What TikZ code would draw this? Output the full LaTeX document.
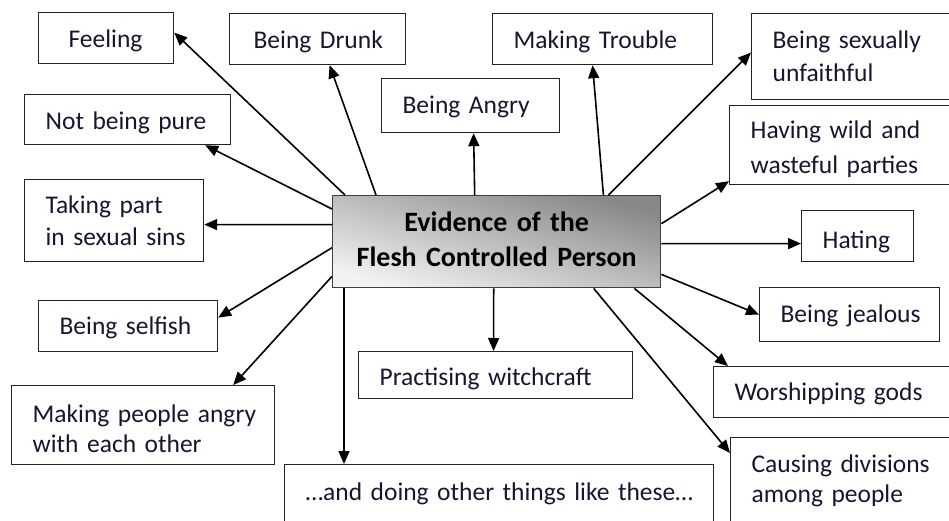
\documentclass[tikz,border=0pt]{standalone}
\usepackage{fontspec}
\setmainfont{Carlito}
\usetikzlibrary{arrows.meta}
\definecolor{txt}{RGB}{22,22,48}
\definecolor{edge}{RGB}{35,35,35}
\pgfdeclareverticalshading{evshade}{100bp}{color(0bp)=(black!5); color(25bp)=(black!5); color(75bp)=(black!47); color(100bp)=(black!47)}
\begin{document}
\begin{tikzpicture}[x=1pt,y=-1pt,
  lpad/.style={execute at begin node={\leftskip=#1}},
  box/.style={draw=edge, line width=1.2pt, anchor=north west, inner sep=0pt,
    align=left, text=txt, font=\fontsize{25.5}{32}\selectfont, lpad=21pt},
  lead/.style={font=\fontsize{25.5}{#1}\selectfont},
  mainbox/.style={draw=black!75, line width=1.4pt, anchor=north west, inner sep=0pt,
    align=center, text=black, font=\bfseries\fontsize{28}{35}\selectfont,
    shade, shading=evshade, shading angle=-15.7},
  arr/.style={draw=black, line width=1.6pt, -{Triangle[length=13pt,width=11pt]}}]
\useasboundingbox (0,0) rectangle (949,521);
\clip (0,0) rectangle (949,521);

% central node
\node[mainbox, text width=328pt, text height=36pt, text depth=56pt] (ev) at (332,195)
  {Evidence of the\\Flesh Controlled Person};

% surrounding boxes
\node[box, lpad=30pt, text width=135pt, text height=34.7pt, text depth=16.3pt] (feel) at (38,12) {Feeling};
\node[box, lpad=24pt, text width=176pt, text height=35pt, text depth=16pt] (drunk) at (229,13) {Being Drunk};
\node[box, text width=178pt, text height=35pt, text depth=19pt] (angry) at (381,78) {Being Angry};
\node[box, text width=220pt, text height=35pt, text depth=16pt] (trouble) at (492,13) {Making Trouble};
\node[box, lead=33pt, text width=250pt, text height=35pt, text depth=51pt] (sex) at (751,13) {Being sexually\\unfaithful};
\node[box, lead=35pt, text width=260pt, text height=33pt, text depth=46pt] (wild) at (729,105) {Having wild and\\wasteful parties};
\node[box, text width=206pt, text height=35pt, text depth=15pt] (pure) at (24,94) {Not being pure};
\node[box, lead=32pt, text width=179pt, text height=34pt, text depth=48pt] (take) at (24,179) {Taking part\\in sexual sins};
\node[box, text width=112pt, text height=38pt, text depth=13pt] (hate) at (801,210) {Hating};
\node[box, text width=180pt, text height=35pt, text depth=19pt] (jeal) at (759,287) {Being jealous};
\node[box, text width=179pt, text height=34pt, text depth=17pt] (self) at (38,300) {Being selfish};
\node[box, text width=274pt, text height=34pt, text depth=13pt] (witch) at (358,351) {Practising witchcraft};
\node[box, text width=260pt, text height=34pt, text depth=17pt] (worship) at (713,366) {Worshipping gods};
\node[box, lead=30pt, text width=263pt, text height=37pt, text depth=42pt] (people) at (11,385) {Making people angry\\with each other};
\node[box, lead=30pt, text width=250pt, text height=35pt, text depth=75pt] (cause) at (730,437) {Causing divisions\\among people};
\node[box, text width=429pt, text height=36pt, text depth=44pt] (doing) at (284,464) {\ldots and doing other things like these\ldots};

% connectors
\draw[arr] ([xshift=13pt]ev.north west) -- ([yshift=5.5pt]feel.east);
\draw[arr] ([xshift=44pt]ev.north west) -- ([xshift=12pt]drunk.south);
\draw[arr] ([xshift=-22pt]ev.north) -- ([xshift=3pt]angry.south);
\draw[arr] ([yshift=-14pt]ev.north west) -- ([xshift=-26pt]pure.south east);
\draw[arr] ([yshift=17pt]ev.west) -- ([yshift=-4pt]take.east);
\draw[arr] ([yshift=-6pt]ev.west) -- ([yshift=8.5pt]self.east);
\draw[arr] ([yshift=12pt]ev.south west) -- ([xshift=-42pt]people.north east);
\draw[arr] ([xshift=12pt]ev.south west) -- ([xshift=60pt]doing.north west);
\draw[arr] ([xshift=-3pt]ev.south) -- ([xshift=-2pt]witch.north);
\draw[arr] ([xshift=97pt]ev.south) -- ([yshift=-16pt]cause.north west);
\draw[arr] ([xshift=-27pt]ev.south east) -- ([xshift=15pt]worship.north west);
\draw[arr] ([yshift=14pt]ev.south east) -- (jeal.west);
\draw[arr] ([yshift=-2pt]ev.east) -- ([yshift=-7.5pt]hate.west);
\draw[arr] ([yshift=18pt]ev.east) -- ([yshift=4pt]wild.south west);
\draw[arr] ([xshift=-53pt]ev.north east) -- ([yshift=4pt]sex.west);
\draw[arr] ([xshift=-58pt]ev.north east) -- ([xshift=-10pt]trouble.south);
\end{tikzpicture}
\end{document}
